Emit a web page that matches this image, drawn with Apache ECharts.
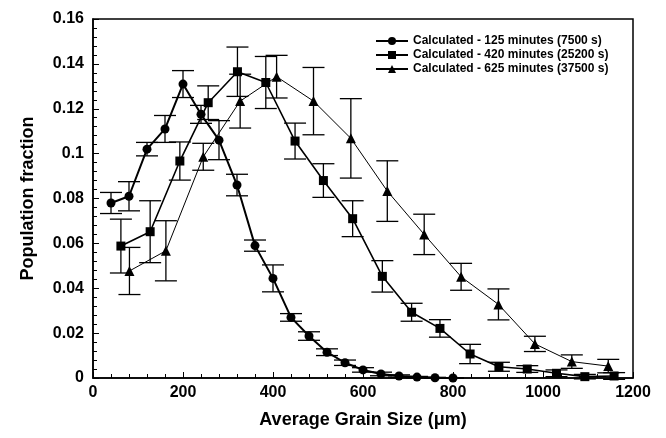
<!DOCTYPE html>
<html>
<head>
<meta charset="utf-8">
<script src="https://cdn.jsdelivr.net/npm/echarts@6/dist/echarts.min.js"></script>
<style>
  html, body { margin: 0; padding: 0; background: #fff; }
  #chart { width: 666px; height: 438px; }
</style>
</head>
<body>
<div id="chart"></div>
<script>
// Grain size distributions at three annealing times (value, +/- error)
const seriesNames = [
  'Calculated - 125 minutes (7500 s)',
  'Calculated - 420 minutes (25200 s)',
  'Calculated - 625 minutes (37500 s)'
];

const circleX = [40, 80, 120, 160, 200, 240, 280, 320, 360, 400, 440, 480, 520, 560, 600, 640, 680, 720, 760, 800];
const circleY = [0.078, 0.081, 0.102, 0.111, 0.131, 0.1175, 0.106, 0.086, 0.059, 0.0444, 0.027, 0.0187, 0.0115, 0.0068, 0.0036, 0.0018, 0.0009, 0.0004, 0.0001, 0.0];
const circleErr = [0.0047, 0.0065, 0.003, 0.006, 0.006, 0.004, 0.0087, 0.0048, 0.0025, 0.006, 0.0017, 0.0019, 0.0015, 0.0012, 0.001, 0.0008, 0.0005, 0.0003, 0.0002, 0.0001];

const squareX = [62, 127, 193, 256, 321, 384, 449, 512, 577, 643, 708, 771, 838, 902, 965, 1030, 1093, 1158];
const squareY = [0.0588, 0.0652, 0.0967, 0.1227, 0.1365, 0.1317, 0.1056, 0.088, 0.071, 0.0453, 0.0293, 0.0221, 0.0107, 0.005, 0.004, 0.0021, 0.0006, 0.0009];
const squareErr = [0.012, 0.0138, 0.0085, 0.0075, 0.011, 0.0116, 0.008, 0.0075, 0.008, 0.007, 0.004, 0.0039, 0.0043, 0.002, 0.0015, 0.0015, 0.001, 0.0015];

const triX = [81, 162, 245, 327, 408, 490, 573, 654, 736, 818, 901, 982, 1064, 1145];
const triY = [0.0477, 0.0567, 0.0986, 0.1234, 0.1343, 0.1234, 0.1068, 0.0833, 0.064, 0.0451, 0.0328, 0.0152, 0.0073, 0.0053];
const triErr = [0.0105, 0.0134, 0.006, 0.012, 0.0095, 0.015, 0.0177, 0.0135, 0.009, 0.006, 0.0069, 0.0034, 0.003, 0.003];

const xTicks = [0, 200, 400, 600, 800, 1000, 1200];
const yTicks = [0, 0.02, 0.04, 0.06, 0.08, 0.1, 0.12, 0.14, 0.16];

const FONT = '"Liberation Sans", Arial, sans-serif';

function points(xs, ys) { return xs.map((x, i) => [x, ys[i]]); }
function errRows(xs, ys, es) { return xs.map((x, i) => [x, ys[i] - es[i], ys[i] + es[i]]); }

// vertical error bar with caps
function renderErr(params, api) {
  const lo = api.coord([api.value(0), api.value(1)]);
  const hi = api.coord([api.value(0), api.value(2)]);
  const half = 11;
  const style = { stroke: '#000', lineWidth: 1.3, fill: null };
  return {
    type: 'group',
    children: [
      { type: 'line', shape: { x1: lo[0], y1: lo[1], x2: hi[0], y2: hi[1] }, style },
      { type: 'line', shape: { x1: lo[0] - half, y1: lo[1], x2: lo[0] + half, y2: lo[1] }, style },
      { type: 'line', shape: { x1: hi[0] - half, y1: hi[1], x2: hi[0] + half, y2: hi[1] }, style }
    ]
  };
}

function errSeries(xs, ys, es) {
  return {
    type: 'custom',
    renderItem: renderErr,
    data: errRows(xs, ys, es),
    encode: { x: 0, y: [1, 2] },
    z: 2,
    silent: true
  };
}

function lineSeries(name, xs, ys, symbol, size, width) {
  return {
    name,
    type: 'line',
    data: points(xs, ys),
    symbol,
    symbolSize: size,
    showAllSymbol: true,
    lineStyle: { color: '#000', width },
    itemStyle: { color: '#000', borderWidth: 0 },
    z: 3,
    animation: false
  };
}

const chart = echarts.init(document.getElementById('chart'), null, { renderer: 'canvas' });

const axisLabelStyle = { color: '#000', fontFamily: FONT, fontWeight: 'bold', fontSize: 16 };

chart.setOption({
  animation: false,
  backgroundColor: '#fff',
  grid: {
    left: 93, right: 33, top: 19, bottom: 60,
    show: true, borderColor: '#000', borderWidth: 1.5, backgroundColor: 'transparent'
  },
  legend: {
    data: seriesNames,
    orient: 'vertical',
    left: 370, top: 30,
    itemWidth: 32, itemHeight: 10, itemGap: 2,
    textStyle: { color: '#000', fontFamily: FONT, fontWeight: 'bold', fontSize: 12 }
  },
  xAxis: {
    type: 'value',
    min: 0, max: 1200, interval: 200,
    name: 'Average Grain Size (\u03bcm)',
    nameLocation: 'middle', nameGap: 33,
    nameTextStyle: { color: '#000', fontFamily: FONT, fontWeight: 'bold', fontSize: 18 },
    axisLine: { show: true, lineStyle: { color: '#000', width: 1.5 } },
    axisTick: { show: true, inside: true, length: 6, lineStyle: { color: '#000', width: 1 } },
    minorTick: { show: true, splitNumber: 5, length: 4, lineStyle: { color: '#000', width: 1 } },
    splitLine: { show: false },
    axisLabel: Object.assign({ margin: 7, formatter: v => xTicks.includes(v) ? String(v) : '' }, axisLabelStyle)
  },
  yAxis: {
    type: 'value',
    min: 0, max: 0.16, interval: 0.02,
    name: 'Population fraction',
    nameLocation: 'middle', nameGap: 56,
    nameTextStyle: { color: '#000', fontFamily: FONT, fontWeight: 'bold', fontSize: 18 },
    axisLine: { show: true, lineStyle: { color: '#000', width: 1.5 } },
    axisTick: { show: true, inside: true, length: 6, lineStyle: { color: '#000', width: 1 } },
    minorTick: { show: true, splitNumber: 5, length: 4, lineStyle: { color: '#000', width: 1 } },
    splitLine: { show: false },
    axisLabel: Object.assign({
      margin: 9,
      formatter: v => {
        const t = yTicks.find(k => Math.abs(k - v) < 1e-9);
        return t === undefined ? '' : String(t);
      }
    }, axisLabelStyle)
  },
  series: [
    errSeries(circleX, circleY, circleErr),
    errSeries(squareX, squareY, squareErr),
    errSeries(triX, triY, triErr),
    lineSeries(seriesNames[0], circleX, circleY, 'circle', 9, 2),
    lineSeries(seriesNames[1], squareX, squareY, 'rect', 9, 1.6),
    lineSeries(seriesNames[2], triX, triY, 'triangle', 10, 1)
  ]
});
</script>
</body>
</html>
